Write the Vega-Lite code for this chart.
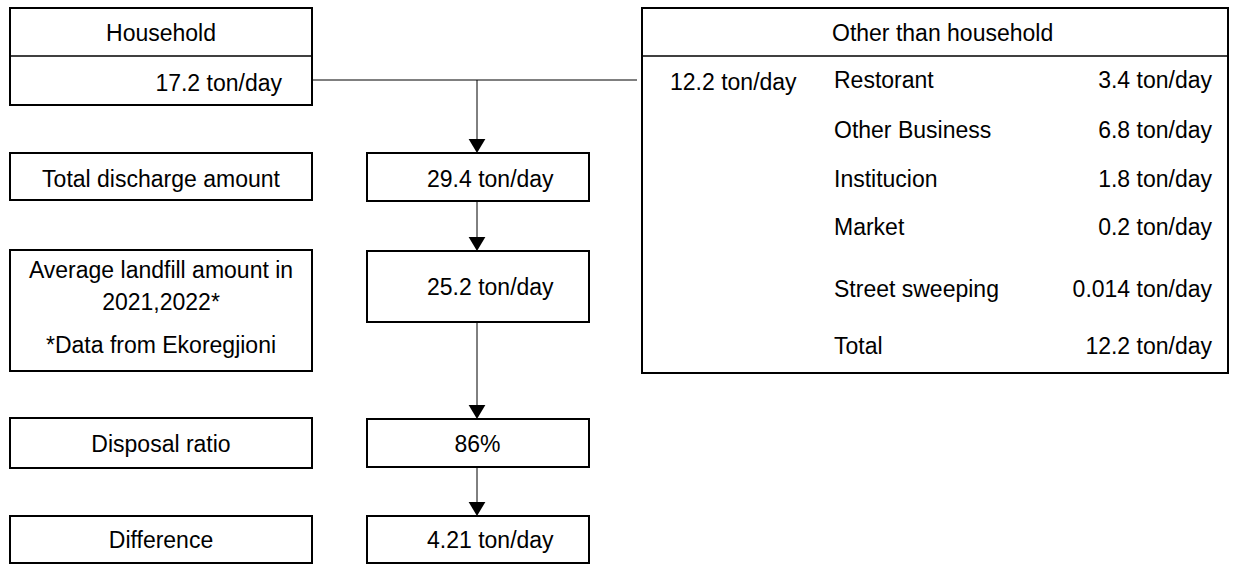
{
  "$schema": "https://vega.github.io/schema/vega-lite/v6.json",
  "width": 1235,
  "height": 565,
  "autosize": {"type": "fit", "contains": "padding"},
  "padding": 0,
  "background": "white",
  "config": {"view": {"stroke": null}, "text": {"font": "Liberation Sans", "fontSize": 23, "color": "black", "baseline": "alphabetic"}},
  "datasets": {
    "boxes": [
      {"name": "Household", "x": 10, "x2": 312, "y": 8, "y2": 105},
      {"name": "Other than household", "x": 642, "x2": 1228, "y": 8, "y2": 373},
      {"name": "Total discharge amount", "x": 10, "x2": 312, "y": 153, "y2": 200},
      {"name": "Total discharge value", "x": 367, "x2": 589, "y": 153, "y2": 201},
      {"name": "Average landfill", "x": 10, "x2": 312, "y": 250, "y2": 371},
      {"name": "Average landfill value", "x": 367, "x2": 589, "y": 251, "y2": 322},
      {"name": "Disposal ratio", "x": 10, "x2": 312, "y": 418, "y2": 468},
      {"name": "Disposal ratio value", "x": 367, "x2": 589, "y": 419, "y2": 467},
      {"name": "Difference", "x": 10, "x2": 312, "y": 516, "y2": 563},
      {"name": "Difference value", "x": 367, "x2": 589, "y": 516, "y2": 563}
    ],
    "dividers": [
      {"x": 10, "x2": 312, "y": 56, "y2": 56},
      {"x": 642, "x2": 1228, "y": 56, "y2": 56}
    ],
    "connectors": [
      {"x": 312, "x2": 637, "y": 80, "y2": 80},
      {"x": 477, "x2": 477, "y": 80, "y2": 142},
      {"x": 477, "x2": 477, "y": 201, "y2": 240},
      {"x": 477, "x2": 477, "y": 322, "y2": 408},
      {"x": 477, "x2": 477, "y": 467, "y2": 505}
    ],
    "arrows": [
      {"x": 477, "y": 146},
      {"x": 477, "y": 244},
      {"x": 477, "y": 412},
      {"x": 477, "y": 509}
    ],
    "centerText": [
      {"x": 161, "y": 41, "text": "Household"},
      {"x": 161, "y": 187, "text": "Total discharge amount"},
      {"x": 161, "y": 278, "text": "Average landfill amount in"},
      {"x": 161, "y": 310, "text": "2021,2022*"},
      {"x": 161, "y": 353, "text": "*Data from Ekoregjioni"},
      {"x": 161, "y": 452, "text": "Disposal ratio"},
      {"x": 161, "y": 548, "text": "Difference"},
      {"x": 477.5, "y": 452, "text": "86%"}
    ],
    "leftText": [
      {"x": 832, "y": 41, "text": "Other than household"},
      {"x": 670, "y": 90, "text": "12.2 ton/day"},
      {"x": 834, "y": 88, "text": "Restorant"},
      {"x": 834, "y": 138, "text": "Other Business"},
      {"x": 834, "y": 187, "text": "Institucion"},
      {"x": 834, "y": 235, "text": "Market"},
      {"x": 834, "y": 297, "text": "Street sweeping"},
      {"x": 834, "y": 354, "text": "Total"},
      {"x": 427, "y": 187, "text": "29.4 ton/day"},
      {"x": 427, "y": 295, "text": "25.2 ton/day"},
      {"x": 427, "y": 548, "text": "4.21 ton/day"}
    ],
    "rightText": [
      {"x": 282, "y": 91, "text": "17.2 ton/day"},
      {"x": 1212, "y": 88, "text": "3.4 ton/day"},
      {"x": 1212, "y": 138, "text": "6.8 ton/day"},
      {"x": 1212, "y": 187, "text": "1.8 ton/day"},
      {"x": 1212, "y": 235, "text": "0.2 ton/day"},
      {"x": 1212, "y": 297, "text": "0.014 ton/day"},
      {"x": 1212, "y": 354, "text": "12.2 ton/day"}
    ]
  },
  "encoding": {
    "x": {"field": "x", "type": "quantitative", "axis": null, "scale": {"domain": [0, 1235], "nice": false, "zero": false}},
    "y": {"field": "y", "type": "quantitative", "axis": null, "scale": {"domain": [0, 565], "nice": false, "zero": false, "reverse": true}}
  },
  "layer": [
    {
      "data": {"name": "boxes"},
      "mark": {"type": "rect", "fill": "white", "stroke": "black", "strokeWidth": 2},
      "encoding": {"x2": {"field": "x2"}, "y2": {"field": "y2"}}
    },
    {
      "data": {"name": "dividers"},
      "mark": {"type": "rule", "stroke": "black", "strokeWidth": 1.5},
      "encoding": {"x2": {"field": "x2"}, "y2": {"field": "y2"}}
    },
    {
      "data": {"name": "connectors"},
      "mark": {"type": "rule", "stroke": "black", "strokeWidth": 1},
      "encoding": {"x2": {"field": "x2"}, "y2": {"field": "y2"}}
    },
    {
      "data": {"name": "arrows"},
      "mark": {"type": "point", "shape": "M-1,-0.84L1,-0.84L0,0.84Z", "filled": true, "fill": "black", "stroke": null, "size": 280, "opacity": 1}
    },
    {
      "data": {"name": "centerText"},
      "mark": {"type": "text", "align": "center"},
      "encoding": {"text": {"field": "text"}}
    },
    {
      "data": {"name": "leftText"},
      "mark": {"type": "text", "align": "left"},
      "encoding": {"text": {"field": "text"}}
    },
    {
      "data": {"name": "rightText"},
      "mark": {"type": "text", "align": "right"},
      "encoding": {"text": {"field": "text"}}
    }
  ]
}
